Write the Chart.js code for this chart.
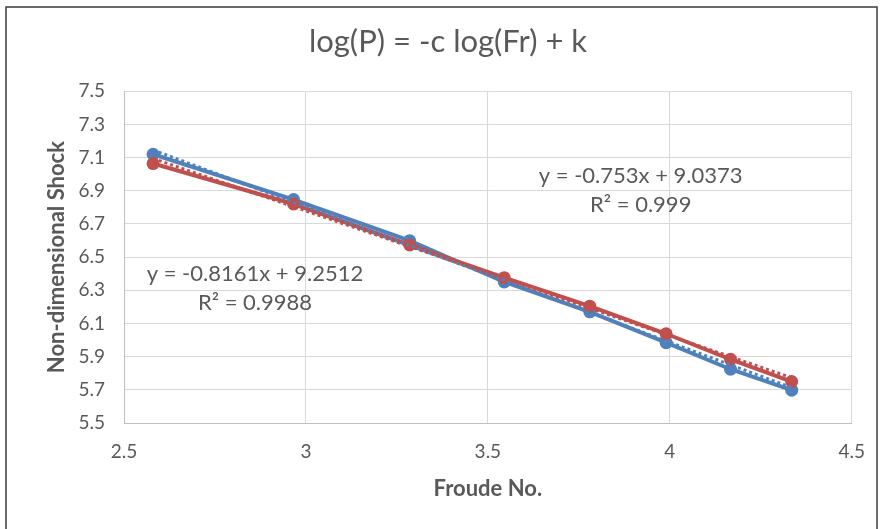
<!DOCTYPE html>
<html>
<head>
<meta charset="utf-8">
<script src="https://cdn.jsdelivr.net/npm/chart.js@4"></script>
<style>
  html, body { margin: 0; padding: 0; background: #ffffff; }
  #chart { display: block; }
</style>
</head>
<body>
<canvas id="chart" width="882" height="529"></canvas>
<script>
// ---------------------------------------------------------------
//  Data
// ---------------------------------------------------------------
const froudeNo   = [2.58, 2.966, 3.285, 3.545, 3.78, 3.99, 4.167, 4.335];
const shockBlue  = [7.12, 6.847, 6.599, 6.35, 6.17, 5.984, 5.824, 5.698];
const shockRed   = [7.064, 6.82, 6.573, 6.376, 6.204, 6.038, 5.884, 5.75];

// linear trendlines (slope, intercept) as printed on the chart
const trendSlope     = [-0.8161, -0.753];
const trendIntercept = [9.2512, 9.0373];
const trendText = [
  ["y = -0.8161x + 9.2512", "R\u00B2 = 0.9988"],
  ["y = -0.753x + 9.0373", "R\u00B2 = 0.999"]
];

const xTicks = [2.5, 3, 3.5, 4, 4.5];
const yTicks = [5.5, 5.7, 5.9, 6.1, 6.3, 6.5, 6.7, 6.9, 7.1, 7.3, 7.5];

// ---------------------------------------------------------------
const BLUE = "#4F81BD";
const RED  = "#C0504D";
const TEXT = "#595959";
const FONT = "Lato, 'Open Sans', sans-serif";

function pairs(xs, ys) {
  return xs.map((x, i) => ({ x: x, y: ys[i] }));
}

// trendline from first to last Froude number
function trendPoints(i) {
  const x0 = froudeNo[0];
  const x1 = froudeNo[froudeNo.length - 1];
  return [
    { x: x0, y: trendSlope[i] * x0 + trendIntercept[i] },
    { x: x1, y: trendSlope[i] * x1 + trendIntercept[i] }
  ];
}

// outer frame + white background
const framePlugin = {
  id: "frame",
  beforeDraw(chart) {
    const ctx = chart.ctx;
    ctx.save();
    ctx.fillStyle = "#ffffff";
    ctx.fillRect(0, 0, chart.width, chart.height);
    ctx.strokeStyle = "#3a3a3a";
    ctx.lineWidth = 1.5;
    ctx.strokeRect(6, 7, 871, 560);
    ctx.restore();
  }
};

// trendline equations
const trendLabels = {
  id: "trendLabels",
  afterDatasetsDraw(chart, args, opts) {
    const { ctx, scales } = chart;
    ctx.save();
    ctx.font = opts.font;
    ctx.fillStyle = TEXT;
    ctx.textAlign = "center";
    ctx.textBaseline = "middle";
    opts.items.forEach(item => {
      const px = scales.x.getPixelForValue(item.at[0]);
      const py = scales.y.getPixelForValue(item.at[1]);
      item.lines.forEach((t, i) => ctx.fillText(t, px, py + i * opts.lineGap));
    });
    ctx.restore();
  }
};

new Chart(document.getElementById("chart"), {
  type: "scatter",
  data: {
    datasets: [
      {
        label: "trend blue",
        data: trendPoints(0),
        showLine: true,
        borderColor: BLUE,
        borderWidth: 3,
        borderDash: [3, 3],
        pointRadius: 0,
        order: 0
      },
      {
        label: "trend red",
        data: trendPoints(1),
        showLine: true,
        borderColor: RED,
        borderWidth: 3,
        borderDash: [3, 3],
        pointRadius: 0,
        order: 0
      },
      {
        label: "red",
        data: pairs(froudeNo, shockRed),
        showLine: true,
        borderColor: RED,
        backgroundColor: RED,
        borderWidth: 4,
        pointRadius: 6.5,
        pointBorderWidth: 0,
        pointBackgroundColor: RED,
        order: 1
      },
      {
        label: "blue",
        data: pairs(froudeNo, shockBlue),
        showLine: true,
        borderColor: BLUE,
        backgroundColor: BLUE,
        borderWidth: 4,
        pointRadius: 6.5,
        pointBorderWidth: 0,
        pointBackgroundColor: BLUE,
        order: 2
      }
    ]
  },
  options: {
    responsive: false,
    animation: false,
    devicePixelRatio: 1,
    layout: { padding: { left: 44, right: 30, top: 0, bottom: 0 } },
    plugins: {
      legend: { display: false },
      tooltip: { enabled: false },
      title: {
        display: true,
        text: "log(P) = -c log(Fr) + k",
        color: TEXT,
        font: { family: FONT, size: 31, weight: "normal" },
        padding: { top: 23, bottom: 31 }
      },
      trendLabels: {
        font: "22px " + FONT,
        lineGap: 29,
        items: [
          { at: [2.86, 6.40], lines: trendText[0] },
          { at: [3.92, 6.99], lines: trendText[1] }
        ]
      }
    },
    scales: {
      x: {
        type: "linear",
        min: 2.5,
        max: 4.5,
        afterBuildTicks: s => { s.ticks = xTicks.map(v => ({ value: v })); },
        afterFit: s => { s.height = 106; },
        grid: { color: "#D9D9D9", lineWidth: 1, drawTicks: false },
        border: { color: "#BFBFBF", width: 1 },
        ticks: {
          color: TEXT,
          padding: 17,
          font: { family: FONT, size: 19 },
          callback: v => String(v)
        },
        title: {
          display: true,
          text: "Froude No.",
          color: TEXT,
          font: { family: FONT, size: 22, weight: "bold" },
          padding: { top: 0, bottom: 27 }
        }
      },
      y: {
        type: "linear",
        min: 5.5,
        max: 7.5,
        afterBuildTicks: s => { s.ticks = yTicks.map(v => ({ value: v })); },
        afterFit: s => { s.width = 80; },
        grid: { color: "#D9D9D9", lineWidth: 1, drawTicks: false },
        border: { color: "#BFBFBF", width: 1 },
        ticks: {
          color: TEXT,
          padding: 19,
          font: { family: FONT, size: 19 },
          callback: v => v.toFixed(1)
        },
        title: {
          display: true,
          text: "Non-dimensional Shock",
          color: TEXT,
          font: { family: FONT, size: 22, weight: "bold" },
          padding: { top: 0, bottom: 0 }
        }
      }
    }
  },
  plugins: [framePlugin, trendLabels]
});
</script>
</body>
</html>
